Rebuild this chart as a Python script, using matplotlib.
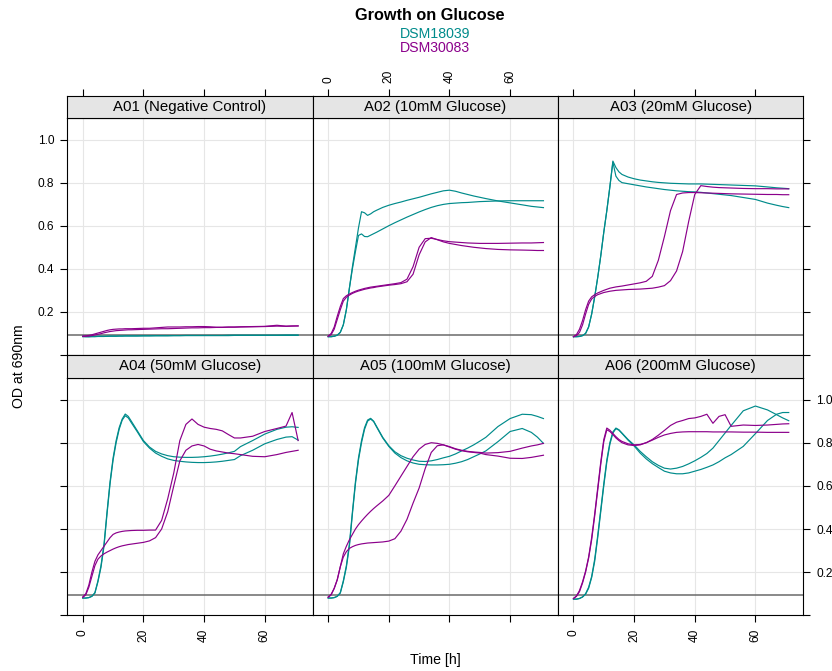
import matplotlib.pyplot as plt
import numpy as np

plt.rcParams["font.family"] = ["Liberation Sans", "DejaVu Sans"]

# sampling times (h), shared by every well
time_h = [0, 1, 2, 3, 4, 5, 6, 7, 8, 9, 10, 11, 12, 13, 14, 15, 16,
          18, 20, 22, 24, 26, 28, 30, 32, 34, 36, 38, 40, 42, 44, 46, 48, 50,
          52, 56, 60, 64, 67, 69, 71]

strains = ["DSM18039", "DSM30083"]
strain_colors = ["#008B8B", "#8B008B"]
blank_od = 0.092

panel_titles = ["A01 (Negative Control)", "A02 (10mM Glucose)", "A03 (20mM Glucose)",
                "A04 (50mM Glucose)", "A05 (100mM Glucose)", "A06 (200mM Glucose)"]

x_ticks = [0, 20, 40, 60]
y_ticks = [0.0, 0.2, 0.4, 0.6, 0.8, 1.0]
y_tick_labels = ["", "0.2", "0.4", "0.6", "0.8", "1.0"]

# OD readings, two replicates per strain and well
a01_dsm18039 = [
    [0.085, 0.084, 0.084, 0.085, 0.085, 0.086, 0.086, 0.086, 0.087, 0.087, 0.087, 0.087, 0.088, 0.088, 0.088, 0.088, 0.088,
     0.088, 0.089, 0.089, 0.089, 0.089, 0.089, 0.090, 0.090, 0.090, 0.090, 0.090, 0.090, 0.090, 0.090, 0.090, 0.090, 0.091,
     0.091, 0.091, 0.091, 0.091, 0.091, 0.091, 0.091],
    [0.088, 0.087, 0.086, 0.086, 0.086, 0.087, 0.087, 0.087, 0.087, 0.088, 0.088, 0.088, 0.088, 0.088, 0.089, 0.089, 0.089,
     0.089, 0.089, 0.089, 0.090, 0.090, 0.090, 0.090, 0.090, 0.091, 0.091, 0.091, 0.091, 0.091, 0.091, 0.091, 0.092, 0.092,
     0.092, 0.092, 0.092, 0.092, 0.093, 0.093, 0.093],
]
a01_dsm30083 = [
    [0.088, 0.089, 0.091, 0.094, 0.098, 0.102, 0.106, 0.110, 0.114, 0.117, 0.119, 0.120, 0.121, 0.121, 0.122, 0.122, 0.122,
     0.123, 0.124, 0.124, 0.126, 0.128, 0.130, 0.130, 0.130, 0.131, 0.131, 0.132, 0.132, 0.131, 0.129, 0.129, 0.130, 0.130,
     0.131, 0.132, 0.133, 0.138, 0.134, 0.135, 0.135],
    [0.086, 0.087, 0.088, 0.090, 0.093, 0.096, 0.099, 0.103, 0.106, 0.109, 0.111, 0.113, 0.114, 0.115, 0.116, 0.117, 0.117,
     0.118, 0.119, 0.120, 0.121, 0.122, 0.122, 0.123, 0.124, 0.125, 0.126, 0.126, 0.127, 0.127, 0.128, 0.128, 0.129, 0.129,
     0.130, 0.131, 0.132, 0.134, 0.133, 0.134, 0.135],
]

a02_dsm18039 = [
    [0.085, 0.085, 0.087, 0.092, 0.105, 0.140, 0.210, 0.310, 0.410, 0.500, 0.590, 0.665, 0.660, 0.648, 0.655, 0.665, 0.672,
     0.685, 0.695, 0.703, 0.710, 0.718, 0.725, 0.732, 0.740, 0.748, 0.755, 0.762, 0.765, 0.760, 0.752, 0.745, 0.738, 0.732,
     0.726, 0.715, 0.706, 0.697, 0.690, 0.687, 0.684],
    [0.085, 0.085, 0.087, 0.092, 0.105, 0.140, 0.210, 0.310, 0.400, 0.480, 0.555, 0.562, 0.550, 0.549, 0.556, 0.563, 0.570,
     0.585, 0.600, 0.614, 0.627, 0.640, 0.652, 0.664, 0.675, 0.685, 0.693, 0.699, 0.703, 0.705, 0.707, 0.708, 0.710, 0.712,
     0.713, 0.715, 0.716, 0.716, 0.716, 0.716, 0.716],
]
a02_dsm30083 = [
    [0.088, 0.100, 0.130, 0.180, 0.225, 0.262, 0.275, 0.283, 0.290, 0.296, 0.301, 0.305, 0.309, 0.312, 0.315, 0.317, 0.319,
     0.323, 0.327, 0.331, 0.336, 0.352, 0.410, 0.500, 0.540, 0.542, 0.536, 0.530, 0.526, 0.524, 0.522, 0.520, 0.519, 0.518,
     0.518, 0.518, 0.519, 0.520, 0.520, 0.521, 0.522],
    [0.086, 0.095, 0.120, 0.165, 0.210, 0.250, 0.268, 0.278, 0.286, 0.292, 0.297, 0.301, 0.305, 0.308, 0.311, 0.313, 0.316,
     0.320, 0.324, 0.327, 0.331, 0.340, 0.375, 0.465, 0.525, 0.545, 0.535, 0.525, 0.518, 0.513, 0.508, 0.504, 0.500, 0.497,
     0.494, 0.490, 0.488, 0.487, 0.486, 0.485, 0.485],
]

a03_dsm18039 = [
    [0.085, 0.085, 0.086, 0.090, 0.100, 0.130, 0.190, 0.270, 0.360, 0.460, 0.570, 0.670, 0.780, 0.900, 0.870, 0.850, 0.838,
     0.826, 0.818, 0.812, 0.808, 0.804, 0.801, 0.799, 0.797, 0.796, 0.795, 0.794, 0.794, 0.794, 0.793, 0.792, 0.791, 0.790,
     0.789, 0.787, 0.785, 0.780, 0.776, 0.774, 0.772],
    [0.085, 0.085, 0.086, 0.090, 0.100, 0.130, 0.190, 0.270, 0.360, 0.460, 0.570, 0.670, 0.780, 0.895, 0.830, 0.810, 0.800,
     0.795, 0.790, 0.785, 0.780, 0.776, 0.772, 0.768, 0.765, 0.762, 0.760, 0.758, 0.757, 0.755, 0.752, 0.749, 0.746, 0.743,
     0.740, 0.731, 0.722, 0.705, 0.695, 0.689, 0.684],
]
a03_dsm30083 = [
    [0.085, 0.095, 0.120, 0.160, 0.210, 0.250, 0.270, 0.280, 0.288, 0.294, 0.300, 0.305, 0.310, 0.313, 0.316, 0.318, 0.320,
     0.325, 0.330, 0.335, 0.342, 0.365, 0.440, 0.550, 0.670, 0.745, 0.752, 0.754, 0.754, 0.753, 0.752, 0.751, 0.750, 0.749,
     0.748, 0.747, 0.746, 0.745, 0.745, 0.744, 0.744],
    [0.085, 0.090, 0.105, 0.140, 0.190, 0.235, 0.260, 0.272, 0.280, 0.285, 0.290, 0.293, 0.296, 0.298, 0.300, 0.301, 0.302,
     0.304, 0.305, 0.306, 0.308, 0.310, 0.315, 0.322, 0.345, 0.390, 0.480, 0.620, 0.745, 0.786, 0.782, 0.779, 0.777, 0.776,
     0.775, 0.773, 0.772, 0.772, 0.771, 0.771, 0.771],
]

a04_dsm18039 = [
    [0.080, 0.080, 0.082, 0.088, 0.105, 0.160, 0.230, 0.330, 0.480, 0.620, 0.730, 0.810, 0.870, 0.910, 0.933, 0.922, 0.900,
     0.855, 0.810, 0.780, 0.760, 0.748, 0.740, 0.735, 0.733, 0.732, 0.732, 0.733, 0.735, 0.738, 0.742, 0.747, 0.753, 0.760,
     0.782, 0.810, 0.840, 0.862, 0.872, 0.874, 0.871],
    [0.080, 0.080, 0.082, 0.088, 0.103, 0.155, 0.222, 0.320, 0.470, 0.610, 0.720, 0.800, 0.862, 0.905, 0.925, 0.915, 0.893,
     0.850, 0.805, 0.775, 0.752, 0.737, 0.725, 0.718, 0.714, 0.711, 0.709, 0.708, 0.708, 0.709, 0.711, 0.714, 0.718, 0.722,
     0.740, 0.765, 0.795, 0.815, 0.826, 0.828, 0.812],
]
a04_dsm30083 = [
    [0.085, 0.100, 0.140, 0.200, 0.250, 0.280, 0.300, 0.320, 0.340, 0.360, 0.375, 0.382, 0.386, 0.389, 0.391, 0.392, 0.393,
     0.394, 0.394, 0.395, 0.395, 0.440, 0.540, 0.660, 0.810, 0.885, 0.910, 0.885, 0.872, 0.866, 0.862, 0.855, 0.838, 0.822,
     0.822, 0.830, 0.852, 0.866, 0.877, 0.940, 0.810],
    [0.083, 0.095, 0.130, 0.180, 0.230, 0.260, 0.275, 0.285, 0.293, 0.300, 0.307, 0.313, 0.318, 0.322, 0.325, 0.328, 0.330,
     0.334, 0.338, 0.345, 0.360, 0.400, 0.480, 0.600, 0.716, 0.765, 0.785, 0.792, 0.785, 0.770, 0.762, 0.757, 0.752, 0.749,
     0.745, 0.737, 0.735, 0.745, 0.755, 0.760, 0.765],
]

a05_dsm18039 = [
    [0.080, 0.080, 0.082, 0.088, 0.105, 0.160, 0.230, 0.330, 0.480, 0.620, 0.730, 0.810, 0.870, 0.905, 0.913, 0.900, 0.875,
     0.825, 0.786, 0.758, 0.740, 0.728, 0.720, 0.714, 0.713, 0.716, 0.722, 0.730, 0.737, 0.748, 0.762, 0.775, 0.790, 0.807,
     0.825, 0.875, 0.912, 0.932, 0.930, 0.922, 0.912],
    [0.080, 0.080, 0.082, 0.088, 0.103, 0.155, 0.222, 0.320, 0.470, 0.610, 0.720, 0.800, 0.862, 0.900, 0.910, 0.898, 0.872,
     0.822, 0.783, 0.752, 0.731, 0.716, 0.706, 0.700, 0.698, 0.697, 0.697, 0.698, 0.700, 0.705, 0.712, 0.722, 0.735, 0.748,
     0.762, 0.805, 0.852, 0.866, 0.848, 0.826, 0.797],
]
a05_dsm30083 = [
    [0.085, 0.098, 0.125, 0.165, 0.225, 0.285, 0.320, 0.350, 0.375, 0.400, 0.420, 0.437, 0.453, 0.468, 0.482, 0.495, 0.507,
     0.530, 0.556, 0.600, 0.645, 0.690, 0.735, 0.770, 0.792, 0.800, 0.797, 0.790, 0.780, 0.770, 0.763, 0.758, 0.755, 0.752,
     0.745, 0.738, 0.728, 0.727, 0.732, 0.737, 0.742],
    [0.083, 0.095, 0.125, 0.165, 0.225, 0.270, 0.295, 0.310, 0.318, 0.324, 0.328, 0.331, 0.333, 0.335, 0.336, 0.337, 0.338,
     0.340, 0.344, 0.355, 0.390, 0.445, 0.520, 0.590, 0.680, 0.755, 0.786, 0.790, 0.782, 0.772, 0.765, 0.760, 0.757, 0.755,
     0.752, 0.754, 0.760, 0.775, 0.785, 0.790, 0.797],
]

a06_dsm18039 = [
    [0.075, 0.075, 0.078, 0.085, 0.100, 0.130, 0.180, 0.260, 0.370, 0.490, 0.610, 0.720, 0.800, 0.850, 0.868, 0.860, 0.845,
     0.815, 0.790, 0.760, 0.735, 0.712, 0.695, 0.682, 0.678, 0.682, 0.690, 0.702, 0.716, 0.732, 0.750, 0.775, 0.810, 0.845,
     0.880, 0.948, 0.970, 0.952, 0.930, 0.915, 0.902],
    [0.075, 0.075, 0.078, 0.085, 0.098, 0.125, 0.175, 0.250, 0.360, 0.480, 0.600, 0.710, 0.792, 0.845, 0.865, 0.858, 0.843,
     0.812, 0.785, 0.752, 0.725, 0.703, 0.685, 0.668, 0.660, 0.656, 0.656, 0.660, 0.668, 0.676, 0.686, 0.697, 0.712, 0.730,
     0.745, 0.783, 0.842, 0.903, 0.932, 0.940, 0.940],
]
a06_dsm30083 = [
    [0.078, 0.090, 0.115, 0.155, 0.205, 0.270, 0.360, 0.470, 0.590, 0.710, 0.815, 0.868, 0.858, 0.843, 0.828, 0.815, 0.806,
     0.795, 0.790, 0.792, 0.800, 0.815, 0.835, 0.857, 0.880, 0.895, 0.903, 0.912, 0.915, 0.922, 0.932, 0.890, 0.922, 0.930,
     0.876, 0.882, 0.880, 0.882, 0.885, 0.887, 0.888],
    [0.078, 0.088, 0.110, 0.150, 0.200, 0.265, 0.350, 0.460, 0.580, 0.700, 0.805, 0.860, 0.852, 0.838, 0.822, 0.810, 0.800,
     0.790, 0.787, 0.790, 0.800, 0.812, 0.825, 0.836, 0.843, 0.848, 0.850, 0.851, 0.851, 0.851, 0.851, 0.850, 0.850, 0.850,
     0.850, 0.849, 0.849, 0.848, 0.848, 0.848, 0.848],
]

wells = [
    (a01_dsm18039, a01_dsm30083), (a02_dsm18039, a02_dsm30083), (a03_dsm18039, a03_dsm30083),
    (a04_dsm18039, a04_dsm30083), (a05_dsm18039, a05_dsm30083), (a06_dsm18039, a06_dsm30083),
]

# layout in pixels, lattice-like 3x2 grid with strips
W, H = 832, 671
col_edges = [67.3, 312.7, 558.0, 803.3]
row_edges = [(95.7, 118.0, 355.0), (355.0, 378.0, 615.3)]
xlim = (-5.1, 75.8)
ylim = (0.0, 1.1)


def fig_rect(x0, y0, x1, y1):
    return [x0 / W, 1 - y1 / H, (x1 - x0) / W, (y1 - y0) / H]


fig = plt.figure(figsize=(W / 100, H / 100), dpi=100)
tick_kw = dict(length=5, width=0.8, direction="out", labelsize=8.6, colors="black")

for i, title in enumerate(panel_titles):
    row, col = divmod(i, 3)
    x0, x1 = col_edges[col], col_edges[col + 1]
    s_top, s_bot, p_bot = row_edges[row]

    ax = fig.add_axes(fig_rect(x0, s_bot, x1, p_bot))
    ax.set_xlim(*xlim)
    ax.set_ylim(*ylim)
    ax.set_xticks(x_ticks)
    ax.set_yticks(y_ticks)
    ax.set_yticklabels(y_tick_labels)
    ax.grid(True, color="#E6E6E6", lw=0.8, zorder=0)
    ax.set_axisbelow(True)
    for sp in ax.spines.values():
        sp.set_linewidth(0.8)

    ax.axhline(blank_od, color="#6A6A6A", lw=1.1, zorder=2)
    teal_reps, purple_reps = wells[i]
    for reps, color in zip((teal_reps, purple_reps), strain_colors):
        for series in reps:
            ax.plot(time_h, series, color=color, lw=0.85, zorder=3)

    ax.tick_params(axis="x", bottom=(row == 1), top=False,
                   labelbottom=(row == 1 and col != 1), labeltop=False,
                   labelrotation=90, pad=5, **tick_kw)
    ax.tick_params(axis="y", left=(col == 0), right=(col == 2),
                   labelleft=(col == 0 and row == 0), labelright=(col == 2 and row == 1),
                   pad=4.5, **tick_kw)

    sax = fig.add_axes(fig_rect(x0, s_top, x1, s_bot))
    sax.set_facecolor("#E5E5E5")
    sax.set_xlim(*xlim)
    sax.set_yticks([])
    for sp in sax.spines.values():
        sp.set_linewidth(0.8)
    if row == 0:
        sax.set_xticks(x_ticks)
        sax.tick_params(axis="x", top=True, bottom=False, labeltop=(col == 1),
                        labelbottom=False, labelrotation=90, pad=4.5, **tick_kw)
    else:
        sax.set_xticks([])
    sax.text(0.5, 0.5, title, transform=sax.transAxes, ha="center", va="center",
             fontsize=10.8)

# title, key and axis labels
cx = (col_edges[0] + col_edges[-1]) / 2 / W
fig.text(430 / W, 1 - 16 / H, "Growth on Glucose", ha="center", va="center",
         fontsize=11.7, fontweight="bold")
for name, color, ypx in zip(strains, strain_colors, [34.5, 48.0]):
    fig.text(cx, 1 - ypx / H, name, ha="center", va="center", fontsize=10.2, color=color)
fig.text(cx, 1 - 660 / H, "Time [h]", ha="center", va="center", fontsize=10.2)
fig.text(19 / W, 1 - 366 / H, "OD at 690nm", ha="center", va="center",
         rotation=90, fontsize=10.2)

fig.savefig("out.png", dpi=100)
